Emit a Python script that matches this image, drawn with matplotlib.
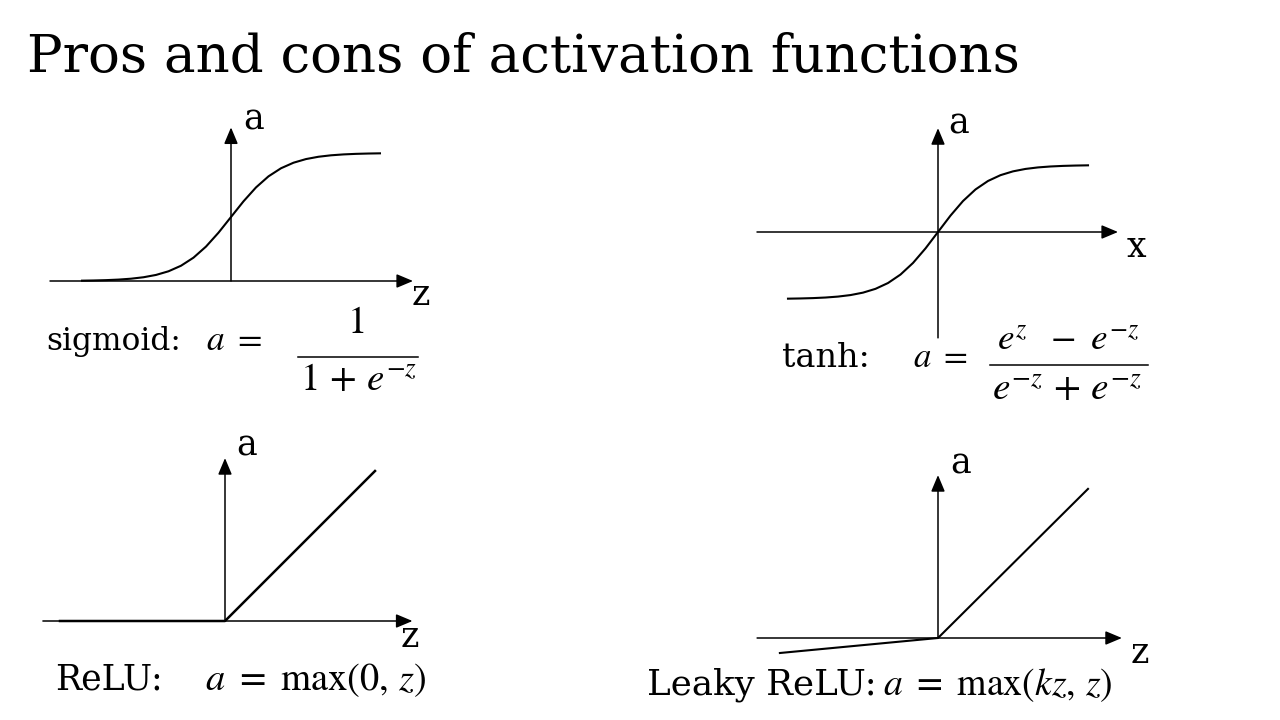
import matplotlib
matplotlib.use("Agg")
import matplotlib.pyplot as plt

# ---------------- data ----------------
sig_z = [-6, -5.5, -5, -4.5, -4, -3.5, -3, -2.5, -2, -1.5, -1, -0.5, 0,
         0.5, 1, 1.5, 2, 2.5, 3, 3.5, 4, 4.5, 5, 5.5, 6]
sig_a = [0.0025, 0.0041, 0.0067, 0.0110, 0.0180, 0.0293, 0.0474, 0.0759,
         0.1192, 0.1824, 0.2689, 0.3775, 0.5, 0.6225, 0.7311, 0.8176,
         0.8808, 0.9241, 0.9526, 0.9707, 0.9820, 0.9890, 0.9933, 0.9959, 0.9975]

tanh_z = [-3, -2.75, -2.5, -2.25, -2, -1.75, -1.5, -1.25, -1, -0.75, -0.5, -0.25, 0,
          0.25, 0.5, 0.75, 1, 1.25, 1.5, 1.75, 2, 2.25, 2.5, 2.75, 3]
tanh_a = [-0.9951, -0.9918, -0.9866, -0.9780, -0.9640, -0.9414, -0.9051, -0.8483,
          -0.7616, -0.6351, -0.4621, -0.2449, 0.0, 0.2449, 0.4621, 0.6351, 0.7616,
          0.8483, 0.9051, 0.9414, 0.9640, 0.9780, 0.9866, 0.9918, 0.9951]

relu_z = [-5.5, 0, 5]
relu_a = [0, 0, 5]

leaky_z = [-5.27, 0, 5]
leaky_a = [-0.5, 0, 4.97]

title = "Pros and cons of activation functions"

# ---------------- figure ----------------
W, H = 1280, 720
plt.rcParams['mathtext.fontset'] = 'stix'
plt.rcParams['font.family'] = ['DejaVu Serif']
fig = plt.figure(figsize=(W / 100, H / 100), dpi=100)
fig.patch.set_facecolor('white')

tax = fig.add_axes([0, 0, 1, 1])
tax.set_xlim(0, W)
tax.set_ylim(H, 0)
tax.axis('off')

AX_LW = 1.1
CURVE_LW = 1.5


def panel(ox, oy, sx, sy, box):
    """Axes whose data origin sits at pixel (ox, oy), sx/sy px per unit."""
    left, top, right, bottom = box
    ax = fig.add_axes([left / W, 1 - bottom / H, (right - left) / W, (bottom - top) / H])
    ax.set_xlim((left - ox) / sx, (right - ox) / sx)
    ax.set_ylim((oy - bottom) / sy, (oy - top) / sy)
    ax.axis('off')
    ax.patch.set_alpha(0)
    return ax


def arrow(ax, start, end):
    ax.annotate('', xy=end, xytext=start,
                arrowprops=dict(arrowstyle='-|>,head_length=1.0,head_width=0.42',
                                mutation_scale=10, lw=AX_LW, color='black',
                                shrinkA=0, shrinkB=0))


# sigmoid
ax1 = panel(231, 281, 25, 128, (30, 100, 450, 300))
arrow(ax1, (-7.24, 0), (7.28, 0))
arrow(ax1, (0, 0), (0, 1.20))
ax1.plot(sig_z, sig_a, color='black', lw=CURVE_LW, solid_capstyle='butt')

# tanh
ax2 = panel(938, 232, 50, 67, (740, 100, 1160, 350))
arrow(ax2, (-3.62, 0), (3.6, 0))
arrow(ax2, (0, -1.58), (0, 1.55))
ax2.plot(tanh_z, tanh_a, color='black', lw=CURVE_LW)

# ReLU
ax3 = panel(225, 621, 30, 30, (30, 440, 450, 640))
arrow(ax3, (-6.07, 0), (6.25, 0))
arrow(ax3, (0, 0), (0, 5.43))
ax3.plot(relu_z, relu_a, color='black', lw=CURVE_LW + 0.3)

# Leaky ReLU
ax4 = panel(938, 638, 30, 30, (740, 455, 1160, 665))
arrow(ax4, (-6.03, 0), (6.13, 0))
arrow(ax4, (0, 0), (0, 5.43))
ax4.plot(leaky_z, leaky_a, color='black', lw=CURVE_LW)

# ---------------- text ----------------
fig.canvas.draw()
renderer = fig.canvas.get_renderer()


def fit(x, y, s, width, ha='left', size0=24, **kw):
    t = tax.text(x, y, s, fontsize=size0, ha=ha, va='baseline', color='black', **kw)
    w = t.get_window_extent(renderer).width
    t.set_fontsize(size0 * width / w)
    return t


fit(27, 72, title, 993)

# axis labels
lab_fs = 25
for (x, y, s) in [(243, 129, 'a'), (412, 305, 'z'),
                  (948, 133, 'a'), (1127, 257, 'x'),
                  (236, 455, 'a'), (401, 647, 'z'),
                  (950, 474, 'a'), (1131, 663, 'z')]:
    tax.text(x, y, s, fontsize=lab_fs, ha='left', va='baseline', color='black')

# sigmoid formula
tax.text(46, 350, "sigmoid:", fontsize=22.5, ha='left', va='baseline', color='black')
fit(206, 350, r"$a\ =$", 56)
den = fit(300, 390, r"$1\,+\,e^{-z}$", 118)
tax.text(356, 333, r"$1$", fontsize=den.get_fontsize(), ha='center', va='baseline')
tax.plot([298, 418], [357, 357], color='black', lw=1.1)

# tanh formula
fit(782, 367, "tanh:", 88)
fit(913, 367, r"$a\ =$", 55)
fit(997, 350, r"$e^{z}\ \ -\ e^{-z}$", 143)
fit(992, 400, r"$e^{-z}\,+\,e^{-z}$", 151)
tax.plot([990, 1148], [365, 365], color='black', lw=1.1)

# ReLU formula
fit(55, 690, "ReLU:", 108)
fit(205, 690, r"$a\ =\ \mathrm{max}(0,\,z)$", 222)

# Leaky ReLU formula
fit(647, 695, "Leaky ReLU:", 230)
fit(883, 695, r"$a\ =\ \mathrm{max}(kz,\,z)$", 230)

fig.savefig("out.png", dpi=100, facecolor='white')
